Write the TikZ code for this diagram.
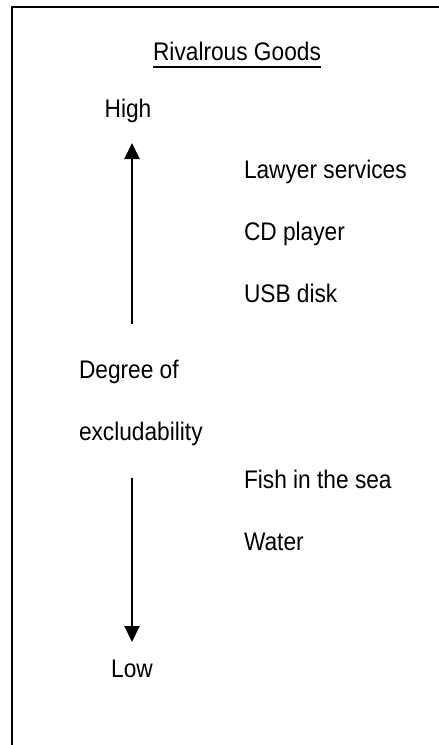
\documentclass[tikz,border=0pt]{standalone}
\usepackage{fontspec}
\setmainfont{Liberation Sans}
\usetikzlibrary{arrows.meta}
\newcommand{\tallt}[1]{\scalebox{1}[1.12]{#1}}
\begin{document}
\begin{tikzpicture}[x=1pt,y=-1pt,
  lbl/.style={inner sep=0pt,outer sep=0pt,font=\fontsize{22.7}{26}\selectfont},
  axisarrow/.style={line width=2pt,-{Triangle[width=15pt,length=16pt]}},
  frame/.style={line width=2pt}]
\useasboundingbox (0,0) rectangle (439,745);
\draw[frame] (12,746) -- (12,7) -- (440,7);
\node[lbl,anchor=base] (title) at (237,60) {\tallt{Rivalrous Goods}};
\draw[line width=1.6pt] ([yshift=-7pt]title.base west) -- ([yshift=-7pt]title.base east);
\node[lbl,anchor=base] (high) at (128,117) {\tallt{High}};
\node[lbl,anchor=base] (low) at (132,677) {\tallt{Low}};
\node[lbl,anchor=base west] (deg) at (79,378) {\tallt{Degree of}};
\node[lbl,anchor=base west] (exc) at (79,440) {\tallt{excludability}};
\node[lbl,anchor=base west] (law) at (244,178) {\tallt{Lawyer services}};
\node[lbl,anchor=base west] (cd) at (244,240) {\tallt{CD player}};
\node[lbl,anchor=base west] (usb) at (244,302) {\tallt{USB disk}};
\node[lbl,anchor=base west] (fish) at (244,488) {\tallt{Fish in the sea}};
\node[lbl,anchor=base west] (water) at (244,550) {\tallt{Water}};
\coordinate (upstart) at (132,324);
\coordinate (uptip) at (132,143);
\coordinate (downstart) at (132,478);
\coordinate (downtip) at (132,642);
\draw[axisarrow] (upstart) -- (uptip);
\draw[axisarrow] (downstart) -- (downtip);
\end{tikzpicture}
\end{document}
